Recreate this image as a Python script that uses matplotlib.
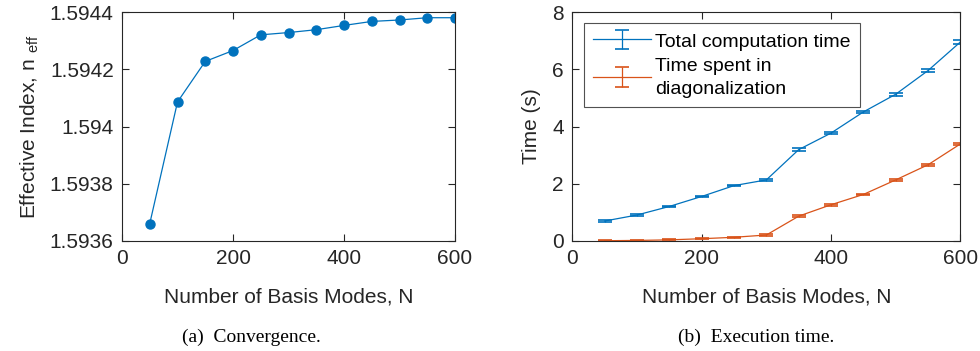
import numpy as np
import matplotlib
matplotlib.use("Agg")
import matplotlib.pyplot as plt

plt.rcParams['font.family'] = ['Liberation Sans', 'DejaVu Sans']
plt.rcParams['mathtext.fontset'] = 'custom'
plt.rcParams['mathtext.rm'] = 'Liberation Sans'

# ---- data
modes = [50, 100, 150, 200, 250, 300, 350, 400, 450, 500, 550, 600]
n_eff = [1.59366, 1.594086, 1.594228, 1.594266, 1.594321, 1.594329,
         1.594339, 1.594354, 1.594368, 1.594373, 1.594381, 1.594381]

t_total = [0.69, 0.90, 1.20, 1.55, 1.93, 2.13, 3.19, 3.77, 4.51, 5.13, 5.96, 6.96]
t_total_err = [0.05, 0.03, 0.03, 0.03, 0.03, 0.03, 0.06, 0.05, 0.05, 0.06, 0.06, 0.07]
t_diag = [0.0, 0.01, 0.03, 0.07, 0.12, 0.20, 0.86, 1.26, 1.62, 2.13, 2.66, 3.39]
t_diag_err = [0.01, 0.01, 0.02, 0.02, 0.02, 0.02, 0.03, 0.03, 0.03, 0.03, 0.03, 0.03]

BLUE = '#0072BD'
ORANGE = '#D95319'
DARK = '#262626'
FS = 15


def matlab_axes(ax):
    for s in ax.spines.values():
        s.set_color(DARK)
        s.set_linewidth(0.8)
    ax.tick_params(direction='in', top=True, right=True, length=5,
                   width=0.8, colors=DARK, labelsize=FS, pad=6)
    ax.xaxis.label.set_color(DARK)
    ax.yaxis.label.set_color(DARK)


fig = plt.figure(figsize=(9.8, 3.51), dpi=100)

# (a) convergence
ax1 = fig.add_axes([0.1245, 0.3142, 0.3398, 0.6508])
ax1.plot(modes, n_eff, '-o', color=BLUE, lw=0.9, ms=6.5)
ax1.set_xlim(0, 600)
ax1.set_ylim(1.5936, 1.5944)
ax1.set_xticks([0, 200, 400, 600])
ax1.set_yticks([1.5936, 1.5938, 1.594, 1.5942, 1.5944])
ax1.set_yticklabels(['1.5936', '1.5938', '1.594', '1.5942', '1.5944'])
ax1.set_xlabel('Number of Basis Modes, N', fontsize=FS, labelpad=14)
ax1.set_ylabel(r'Effective Index, n $_{\mathregular{eff}}$', fontsize=FS, labelpad=6)
matlab_axes(ax1)

# (b) execution time
ax2 = fig.add_axes([0.584, 0.3142, 0.396, 0.6508])
ax2.errorbar(modes, t_total, yerr=t_total_err, color=BLUE, lw=0.9,
             capsize=4.7, capthick=1.2, label='Total computation time')
ax2.errorbar(modes, t_diag, yerr=t_diag_err, color=ORANGE, lw=0.9,
             capsize=4.7, capthick=1.2, label='Time spent in\ndiagonalization')
ax2.set_xlim(0, 600)
ax2.set_ylim(0, 8)
ax2.set_xticks([0, 200, 400, 600])
ax2.set_yticks([0, 2, 4, 6, 8])
ax2.set_xlabel('Number of Basis Modes, N', fontsize=FS, labelpad=14)
ax2.set_ylabel('Time (s)', fontsize=FS, labelpad=8)
matlab_axes(ax2)
leg = ax2.legend(loc='upper left', bbox_to_anchor=(0.031, 0.954), fontsize=14,
                 frameon=True, fancybox=False, edgecolor=DARK,
                 borderaxespad=0, handlelength=3.0, handletextpad=0.2,
                 borderpad=0.45, labelspacing=0.35, handleheight=1.0)
leg.get_frame().set_linewidth(0.8)
for t in leg.get_texts():
    t.set_color('black')
    t.set_linespacing(1.5)

# captions
fig.text(0.257, 0.04, '(a)  Convergence.', ha='center', va='center',
         fontsize=14, family='Liberation Serif')
fig.text(0.772, 0.04, '(b)  Execution time.', ha='center', va='center',
         fontsize=14, family='Liberation Serif')

fig.savefig('out.png', dpi=100)
